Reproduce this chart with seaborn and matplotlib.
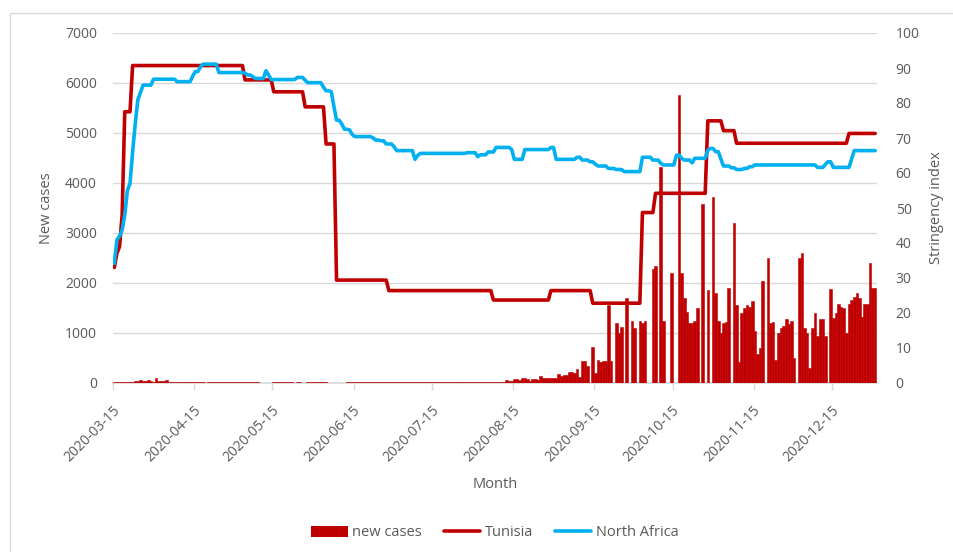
import matplotlib
matplotlib.use('Agg')
import matplotlib.pyplot as plt
from matplotlib.patches import Patch, Rectangle
from matplotlib.lines import Line2D
from matplotlib.transforms import ScaledTranslation
import pandas as pd
import seaborn as sns

# Tunisia daily new cases, one list per month
cases_mar = [20, 25, 20, 18, 25, 20, 30, 25, 35, 40, 55, 40, 35, 60, 45, 30, 100]  # from 15 March
cases_apr = [45, 40, 35, 60, 30, 25, 20, 20, 25, 20, 25, 20, 25, 22, 20, 18, 20, 22,
             0, 18, 17, 15, 16, 15, 14, 16, 15, 15, 14, 16]
cases_may = [15, 14, 15, 16, 15, 14, 15, 15, 14, 0, 0, 0, 0, 0, 15, 14, 16, 15, 15, 14,
             16, 15, 0, 14, 15, 0, 0, 15, 14, 16, 15]
cases_jun = [15, 14, 16, 15, 0, 0, 0, 0, 0, 0, 0, 15, 14, 16, 15, 15, 14, 16, 15, 14,
             15, 16, 15, 15, 16, 14, 15, 16, 15, 14]
cases_jul = [15, 16, 15, 17, 16, 15, 18, 16, 17, 15, 16, 18, 17, 16, 19, 17, 18, 20,
             16, 18, 19, 17, 20, 18, 19, 21, 18, 20, 22, 19, 21]
cases_aug = [20, 22, 19, 24, 21, 23, 25, 22, 26, 24, 28, 60, 50, 40, 80, 80, 60,
             93, 93, 90, 40, 80, 80, 60, 147, 110, 107, 107, 100, 110, 105]
cases_sep = [180, 150, 160, 160, 227, 230, 200, 273, 120, 440, 440, 340, 0, 713,
             200, 460, 427, 447, 447, 1560, 447, 0, 1193, 993, 1127, 0, 1693, 0,
             1233, 1093]
cases_oct = [0, 1233, 1193, 1233, 0, 0, 2280, 2340, 0, 4327, 1233, 0, 0, 2200, 0,
             0, 5760, 2193, 1693, 1427, 1193, 1193, 1240, 1500, 0, 3580, 0, 1860,
             0, 3727, 1800]
cases_nov = [1233, 993, 1193, 1213, 1900, 0, 3193, 1560, 427, 1393, 1493, 1560,
             1527, 1647, 1047, 580, 693, 2040, 0, 2493, 1193, 1213, 460, 993, 1093,
             1147, 1273, 1180, 1240, 493]
cases_dec = [0, 2493, 2607, 1093, 993, 293, 1093, 1393, 947, 1273, 1273, 947, 0,
             1873, 1293, 1393, 1580, 1527, 1493, 993, 1580, 1660, 1727, 1807, 1693,
             1327, 1580, 1580, 2400, 1893, 1900]

# stringency index: new value from each listed date until the next change
tunisia_dates = ['2020-03-15', '2020-03-16', '2020-03-17', '2020-03-18', '2020-03-19',
                 '2020-03-22', '2020-05-04', '2020-05-15', '2020-05-27', '2020-06-04',
                 '2020-06-08', '2020-06-28', '2020-08-07', '2020-08-29', '2020-09-14',
                 '2020-10-03', '2020-10-08', '2020-10-28', '2020-11-03', '2020-11-08',
                 '2020-12-21']
tunisia_vals = [33, 37, 39, 48, 77.5, 90.7, 86.6, 83.2, 78.9, 68.3, 29.4, 26.4, 23.7,
                26.4, 22.8, 48.7, 54.2, 74.9, 72.1, 68.5, 71.3]

africa_dates = ['2020-03-15', '2020-03-16', '2020-03-17', '2020-03-18', '2020-03-19',
                '2020-03-20', '2020-03-21', '2020-03-22', '2020-03-23', '2020-03-24',
                '2020-03-25', '2020-03-26', '2020-03-30', '2020-04-08', '2020-04-14',
                '2020-04-15', '2020-04-17', '2020-04-18', '2020-04-24', '2020-05-04',
                '2020-05-05', '2020-05-07', '2020-05-08', '2020-05-12', '2020-05-13',
                '2020-05-14', '2020-05-24', '2020-05-27', '2020-05-28', '2020-06-03',
                '2020-06-04', '2020-06-06', '2020-06-07', '2020-06-08', '2020-06-10',
                '2020-06-11', '2020-06-13', '2020-06-14', '2020-06-15', '2020-06-22',
                '2020-06-23', '2020-06-25', '2020-06-27', '2020-06-30', '2020-07-01',
                '2020-07-08', '2020-07-09', '2020-07-10', '2020-07-28', '2020-08-01',
                '2020-08-02', '2020-08-05', '2020-08-08', '2020-08-14', '2020-08-15',
                '2020-08-19', '2020-08-29', '2020-08-31', '2020-09-08', '2020-09-10',
                '2020-09-13', '2020-09-15', '2020-09-16', '2020-09-20', '2020-09-23',
                '2020-09-26', '2020-10-03', '2020-10-07', '2020-10-10', '2020-10-11',
                '2020-10-16', '2020-10-18', '2020-10-19', '2020-10-22', '2020-10-23',
                '2020-10-28', '2020-10-29', '2020-10-31', '2020-11-02', '2020-11-03',
                '2020-11-06', '2020-11-08', '2020-11-11', '2020-11-13', '2020-11-15',
                '2020-12-09', '2020-12-12', '2020-12-13', '2020-12-15', '2020-12-22',
                '2020-12-23']
africa_vals = [34.2, 40.9, 42, 43.7, 48, 55, 57, 66, 74, 80.9,
               83, 85.1, 86.8, 86.1, 87.7, 89, 90.4, 91.1, 88.7, 88.5,
               88, 87.5, 87, 89.2, 88, 86.7, 87.3, 86.5, 85.8, 84.5,
               83.5, 83.2, 79, 75.1, 74, 72.5, 72.3, 71, 70.4, 70,
               69.4, 69.2, 68.3, 67.5, 66.4, 63.9, 65, 65.6, 65.8, 64.7,
               65.2, 66, 67.3, 66.7, 63.9, 66.7, 67.3, 63.9, 64.5, 63.7,
               63.2, 62.5, 62, 61.3, 61, 60.4, 64.5, 63.7, 62.8, 62.3,
               65.1, 64.2, 63.7, 62.9, 64.2, 66.5, 67, 66.1, 64, 62,
               61.5, 61, 61.3, 61.8, 62.3, 61.6, 62.5, 63.2, 61.6, 64,
               66.4]

month_ticks = ['2020-03-15', '2020-04-15', '2020-05-15', '2020-06-15', '2020-07-15',
               '2020-08-15', '2020-09-15', '2020-10-15', '2020-11-15', '2020-12-15']

RED = '#C00000'
BLUE = '#00B0F0'
GREY = '#595959'
LIGHT = '#D9D9D9'

days = pd.date_range('2020-03-15', '2020-12-31', freq='D')
cases = (cases_mar + cases_apr + cases_may + cases_jun + cases_jul + cases_aug
         + cases_sep + cases_oct + cases_nov + cases_dec)


def steps(dates, vals):
    s = pd.Series(vals, index=pd.to_datetime(dates))
    return s.reindex(days).ffill().values


df = pd.DataFrame({'date': days, 'cases': cases,
                   'Tunisia': steps(tunisia_dates, tunisia_vals),
                   'North Africa': steps(africa_dates, africa_vals)})
df['mid'] = df['date'] + pd.Timedelta(hours=12)

sns.set_theme(style='white')
plt.rcParams['font.family'] = ['Open Sans', 'DejaVu Sans']

W, H = 954, 552
fig = plt.figure(figsize=(W / 100, H / 100), dpi=100)
ax = fig.add_axes([113 / W, 1 - 383 / H, 764 / W, 350 / H])

# bars above the light axis line, as in the original
edges = [RED if c > 0 else 'none' for c in df['cases']]
ax.bar(df['date'], df['cases'], width=1.0, align='edge', color=RED,
       edgecolor=edges, linewidth=0.4, zorder=3)
ax.set_ylim(0, 7000)
ax.set_yticks(range(0, 7001, 1000))
ax.set_xlim(pd.Timestamp('2020-03-15'), pd.Timestamp('2021-01-01 05:00'))
ax.yaxis.grid(True, color=LIGHT, lw=1)
ax.set_axisbelow(True)

ax2 = ax.twinx()
sns.lineplot(data=df, x='mid', y='Tunisia', ax=ax2, color=RED, lw=2.6)
sns.lineplot(data=df, x='mid', y='North Africa', ax=ax2, color=BLUE, lw=2.6)
ax2.set_ylim(0, 100)
ax2.set_yticks(range(0, 101, 10))
ax2.set_xlim(ax.get_xlim())

for a in (ax, ax2):
    for sp in a.spines.values():
        sp.set_visible(False)
ax.spines['bottom'].set_visible(True)
ax.spines['bottom'].set_color(LIGHT)

ticks = pd.to_datetime(month_ticks)
ax.set_xticks(ticks)
ax.set_xticklabels(month_ticks, rotation=45, ha='right', rotation_mode='anchor', va='center')
ax.tick_params(axis='x', length=5, width=1, color=LIGHT, direction='out', bottom=True,
               labelsize=10, labelcolor=GREY, pad=13)
shift = ScaledTranslation(5 / 100, 0, fig.dpi_scale_trans)
for lab in ax.get_xticklabels():
    lab.set_transform(lab.get_transform() + shift)
ax.tick_params(axis='y', length=0, pad=11.5, labelsize=10, labelcolor=GREY)
ax2.tick_params(axis='y', length=0, pad=13.5, labelsize=10, labelcolor=GREY)

ax.set_xlabel('Month', fontsize=10.5, color=GREY)
ax.xaxis.label.set_va('center')
ax.xaxis.set_label_coords(0.5, (383 - 484) / 350)
ax.set_ylabel('New cases', fontsize=10.5, color=GREY)
ax.yaxis.label.set_va('center')
ax.yaxis.set_label_coords((47 - 113) / 764, 0.5)
ax2.set_ylabel('Stringency index', fontsize=10.5, color=GREY)
ax2.yaxis.label.set_va('center')
ax2.yaxis.set_label_coords((937 - 113) / 764, 0.5)

handles = [Patch(facecolor=RED, edgecolor='none'),
           Line2D([], [], color=RED, lw=2.6),
           Line2D([], [], color=BLUE, lw=2.6)]
leg = fig.legend(handles, ['new cases', 'Tunisia', 'North Africa'], loc='center',
                 bbox_to_anchor=(495 / W, 1 - 533 / H), ncol=3, frameon=False,
                 fontsize=10.5, handlelength=2.5, handletextpad=0.3, columnspacing=1.5)
for t in leg.get_texts():
    t.set_color(GREY)

fig.add_artist(Rectangle((10.5 / W, -0.05), 1, 1.05 - 13 / H, transform=fig.transFigure,
                         fill=False, edgecolor=LIGHT, lw=1))

fig.savefig('out.png', dpi=100)
